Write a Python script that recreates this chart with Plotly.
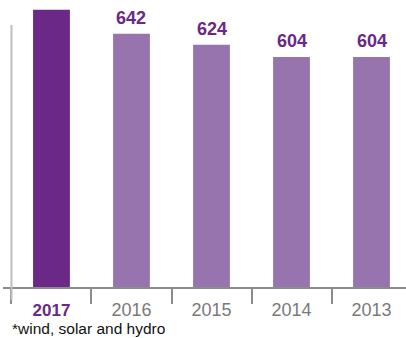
import plotly.graph_objects as go

# Data
years = ["2017", "2016", "2015", "2014", "2013"]
values = [681, 642, 624, 604, 604]
show_label = [False, True, True, True, True]

DARK = "#6b2886"
LIGHT = "#9874ae"
LABEL = "#6a2887"
GRAY = "#7a7a7a"

bar_colors = [DARK] + [LIGHT] * (len(years) - 1)
tick_text = [f"<b><span style='color:{LABEL};font-size:17px'>{years[0]}</span></b>"] + years[1:]

fig = go.Figure()
fig.add_trace(go.Bar(
    x=years, y=values,
    marker=dict(color=bar_colors, line=dict(width=0)),
    width=0.46,
    hoverinfo="skip",
))

# Value labels above bars (category index positions)
for i, (v, show) in enumerate(zip(values, show_label)):
    if show:
        fig.add_annotation(
            x=i, y=v, xref="x", yref="y", text=f"<b>{v}</b>", showarrow=False,
            yanchor="bottom", yshift=4,
            font=dict(family="Liberation Sans, Arial", size=18, color=LABEL),
        )

# Left vertical rule
fig.add_shape(type="line", xref="x", yref="paper",
              x0=-0.5, x1=-0.5, y0=-0.045, y1=0.913,
              line=dict(color="#bdbdbd", width=2))

# Footnote
fig.add_annotation(
    text="*wind, solar and hydro", xref="paper", yref="paper",
    x=0.017, y=-0.108, xanchor="left", yanchor="top", showarrow=False,
    font=dict(family="Liberation Sans, Arial", size=15.5, color="#111111"),
)

fig.update_layout(
    width=406, height=338,
    margin=dict(l=3, r=0, t=0, b=51),
    paper_bgcolor="white", plot_bgcolor="white",
    showlegend=False,
    xaxis=dict(
        type="category", range=[-0.606, 4.431],
        tickmode="array", tickvals=years, ticktext=tick_text,
        tickson="boundaries", ticks="outside", ticklen=15,
        tickcolor="#8c8c8c", tickwidth=1.5,
        showline=True, linecolor="#8c8c8c", linewidth=1.5,
        showgrid=False, zeroline=False,
        ticklabelstandoff=6,
        tickfont=dict(family="Liberation Sans, Arial", size=18, color=GRAY),
        fixedrange=True,
    ),
    yaxis=dict(
        range=[229, 697], visible=False, showgrid=False,
        zeroline=False, fixedrange=True,
    ),
)

fig.write_html("out.html")
